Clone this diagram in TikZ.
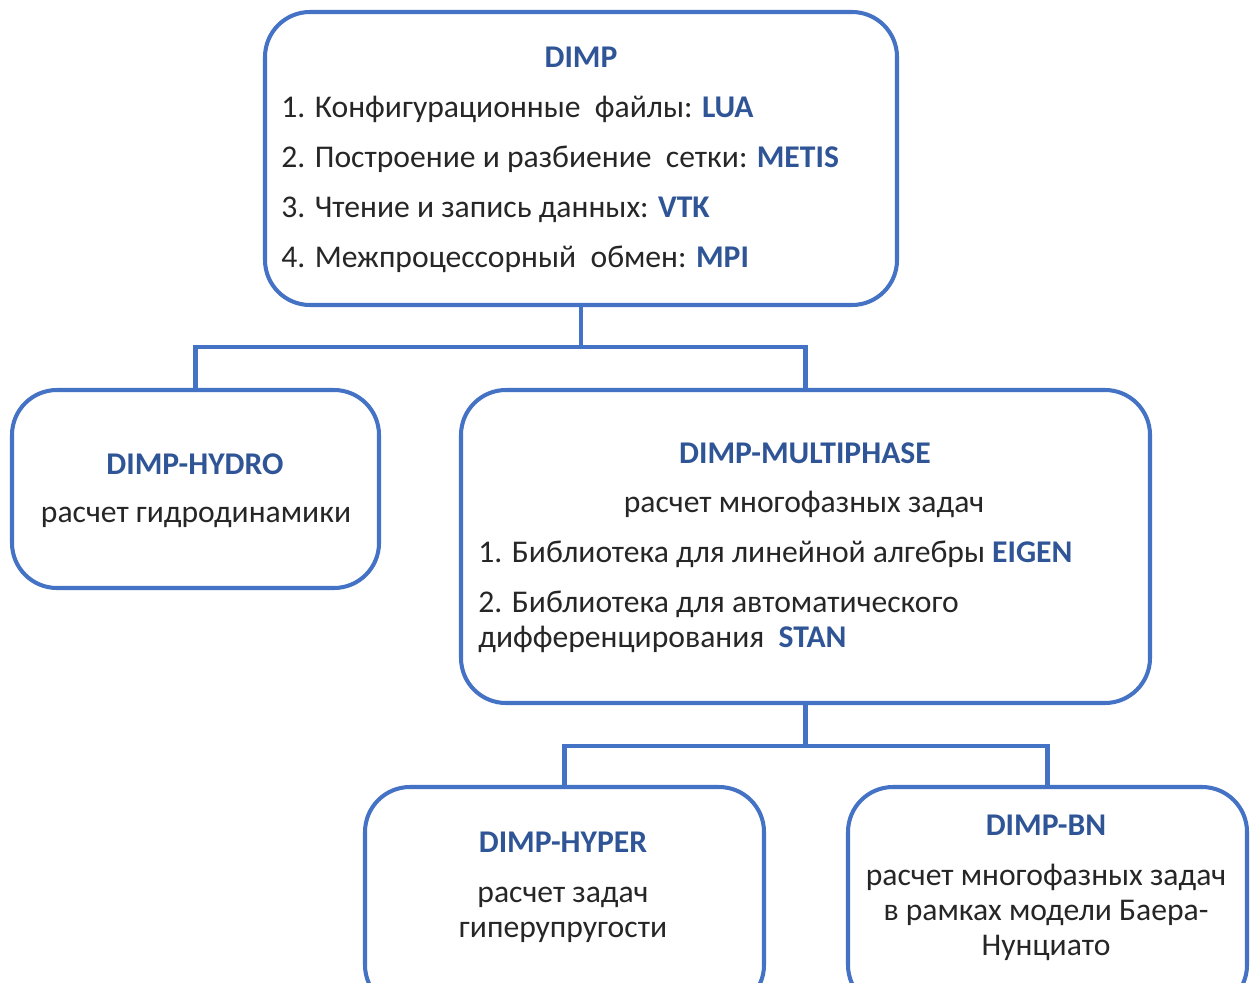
\documentclass[tikz,border=0pt]{standalone}
\usepackage{fontspec}
\setmainfont{Carlito}
\definecolor{boxblue}{HTML}{4472C4}
\definecolor{titleblue}{HTML}{2F5597}
\definecolor{bodytext}{HTML}{262626}
\begin{document}
\begin{tikzpicture}[x=0.02cm,y=-0.02cm,
  box/.style={draw=boxblue,line width=2.3pt,rounded corners=0.9cm,rectangle,inner sep=0pt,fill=white},
  conn/.style={draw=boxblue,line width=2.3pt},
  txt/.style={inner sep=0pt,text=bodytext,font=\fontsize{18}{22}\selectfont},
  ttl/.style={inner sep=0pt,text=titleblue,font=\fontsize{18}{22}\selectfont\bfseries},
]
\useasboundingbox[fill=white] (0,0) rectangle (1254,983);
% boxes
\node[box,minimum width=632*0.02cm,minimum height=293*0.02cm] (dimp) at (581,158.5) {};
\node[box,minimum width=367*0.02cm,minimum height=198*0.02cm] (hydro) at (195.5,489) {};
\node[box,minimum width=689*0.02cm,minimum height=313*0.02cm] (multi) at (805.5,546.5) {};
\node[box,minimum width=399*0.02cm,minimum height=223*0.02cm] (hyper) at (564.5,898.5) {};
\node[box,minimum width=399*0.02cm,minimum height=223*0.02cm] (bn) at (1047.5,898.5) {};
% connectors
\coordinate (j1) at (581,347);
\coordinate (j2) at (805.5,746);
\draw[conn] (dimp.south) -- (j1);
\draw[conn] (hydro.north) -- (hydro.north |- j1) -- (multi.north |- j1) -- (multi.north);
\draw[conn] (multi.south) -- (j2);
\draw[conn] (hyper.north) -- (hyper.north |- j2) -- (bn.north |- j2) -- (bn.north);
% DIMP text
\node[ttl,anchor=base] (t1) at (581,68) {DIMP};
\node[txt,anchor=base west] (t2) at (281,118) {1. Конфигурационные\ \ файлы: \textcolor{titleblue}{\bfseries LUA}};
\node[txt,anchor=base west] (t3) at (281,168) {2. Построение и разбиение\ \ сетки: \textcolor{titleblue}{\bfseries METIS}};
\node[txt,anchor=base west] (t4) at (281,218) {3. Чтение и запись данных: \textcolor{titleblue}{\bfseries VTK}};
\node[txt,anchor=base west] (t5) at (281,268) {4. Межпроцессорный\ \ обмен: \textcolor{titleblue}{\bfseries MPI}};
% HYDRO text
\node[ttl,anchor=base] (h1) at (195,474) {DIMP-HYDRO};
\node[txt,anchor=base] (h2) at (196,522) {расчет гидродинамики};
% MULTIPHASE text
\node[ttl,anchor=base] (m1) at (805,463) {DIMP-MULTIPHASE};
\node[txt,anchor=base] (m2) at (804,512) {расчет многофазных задач};
\node[txt,anchor=base west] (m3) at (478,562) {1. Библиотека для линейной алгебры \textcolor{titleblue}{\bfseries EIGEN}};
\node[txt,anchor=base west] (m4) at (478,612) {2. Библиотека для автоматического};
\node[txt,anchor=base west] (m5) at (478,647) {дифференцирования\ \ \textcolor{titleblue}{\bfseries STAN}};
% HYPER text
\node[ttl,anchor=base] (y1) at (563,852) {DIMP-HYPER};
\node[txt,anchor=base] (y2) at (563,902) {расчет задач};
\node[txt,anchor=base] (y3) at (563,937) {гиперупругости};
% BN text
\node[ttl,anchor=base] (b1) at (1046,835) {DIMP-BN};
\node[txt,anchor=base] (b2) at (1046,885) {расчет многофазных задач};
\node[txt,anchor=base] (b3) at (1046,920) {в рамках модели Баера-};
\node[txt,anchor=base] (b4) at (1046,955) {Нунциато};
\end{tikzpicture}
\end{document}
